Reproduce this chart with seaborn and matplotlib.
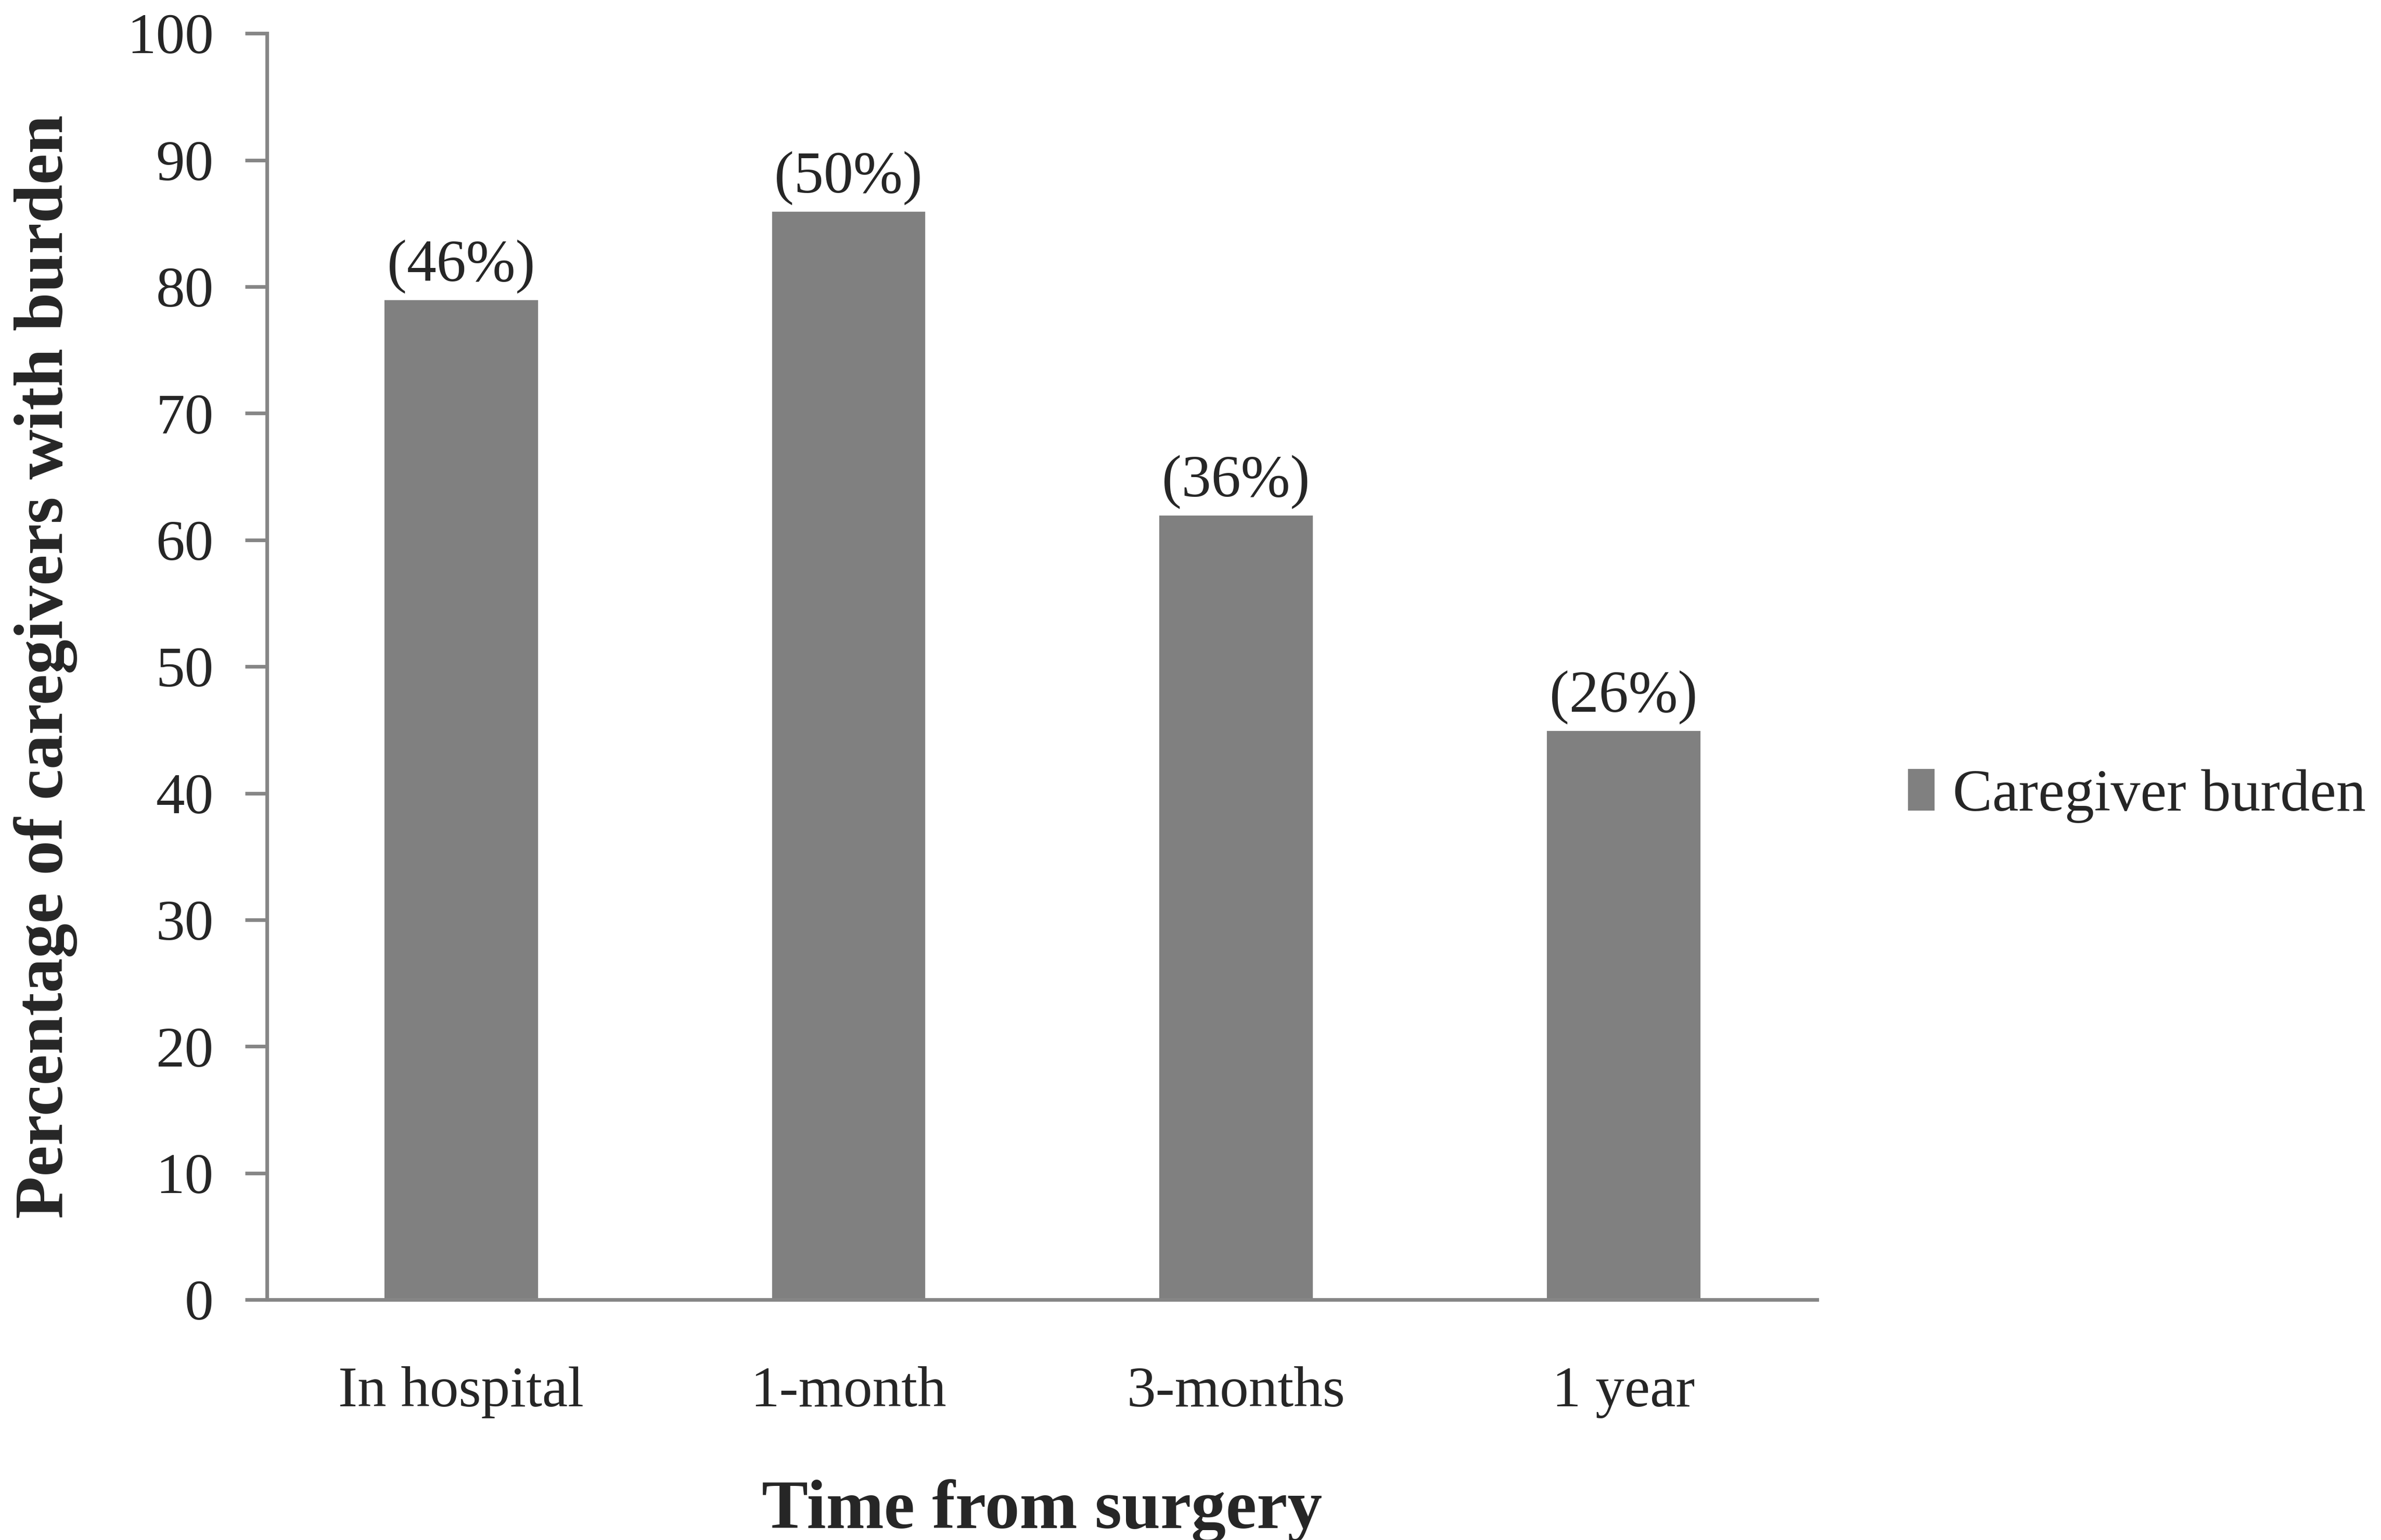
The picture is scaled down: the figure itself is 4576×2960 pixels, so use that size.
import matplotlib
matplotlib.use("Agg")
import matplotlib.pyplot as plt
from matplotlib.patches import Patch
import pandas as pd
import seaborn as sns

# values
periods = ["In hospital", "1-month", "3-months", "1 year"]
burden_pct = [79, 86, 62, 45]
bar_labels = ["(46%)", "(50%)", "(36%)", "(26%)"]

df = pd.DataFrame({"period": periods, "pct": burden_pct})

sns.set_style("white")
plt.rcParams["font.family"] = ["Liberation Serif", "DejaVu Serif"]

bar_color = "#808080"
axis_color = "#868686"

fig = plt.figure(figsize=(22.88, 14.8), dpi=200)
ax = fig.add_axes([0.1122, 0.156, 0.651, 0.8223])

sns.barplot(data=df, x="period", y="pct", order=periods, color=bar_color,
            saturation=1, width=0.4, ax=ax)

for i, (v, lab) in enumerate(zip(burden_pct, bar_labels)):
    ax.annotate(lab, (i, v), xytext=(0, 4), textcoords="offset points",
                ha="center", va="bottom", fontsize=41)

ax.set_xlim(-0.5, 3.5)
ax.set_ylim(0, 100)
ax.set_yticks(range(0, 101, 10))

for side in ["top", "right"]:
    ax.spines[side].set_visible(False)
for side in ["left", "bottom"]:
    ax.spines[side].set_color(axis_color)
    ax.spines[side].set_linewidth(2.5)

ax.tick_params(axis="y", direction="out", length=15, width=2.5,
               color=axis_color, pad=22, labelsize=40, left=True)
ax.tick_params(axis="x", length=0, pad=46, labelsize=40)

ax.set_xlabel("Time from surgery", fontsize=48, fontweight="bold", labelpad=42)
ax.set_ylabel("Percentage of caregivers with burden", fontsize=48,
              fontweight="bold", labelpad=34)

handle = Patch(facecolor=bar_color, edgecolor="none")
fig.legend([handle], ["Caregiver burden"], loc="center left",
           bbox_to_anchor=(0.779, 0.483), frameon=False, fontsize=41,
           handlelength=0.45, handleheight=0.7, handletextpad=0.3)

fig.savefig("out.png", dpi=200, facecolor="white")
